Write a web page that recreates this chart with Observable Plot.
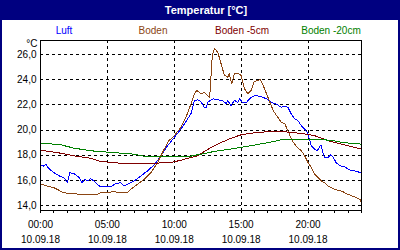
<!DOCTYPE html>
<html><head><meta charset="utf-8">
<script src="https://cdn.jsdelivr.net/npm/d3@7"></script>
<script src="https://cdn.jsdelivr.net/npm/@observablehq/plot@0.6"></script>
<style>
body{margin:0;background:#fff;font-family:"Liberation Sans",Arial,sans-serif;}
#frame{position:absolute;left:0;top:0;width:400px;height:250px;box-sizing:border-box;border:2px solid #000080;border-top:none;background:#fff;}
#title{position:absolute;left:0;top:0;width:400px;height:20px;background:#000080;}
#title span{position:absolute;left:206px;top:10px;transform:translate(-50%,-50%);color:#fff;font-weight:bold;font-size:11px;white-space:nowrap;}
.leg{position:absolute;top:30px;transform:translate(-50%,-50%);font-size:10px;white-space:nowrap;}
#chart{position:absolute;left:0;top:20px;}
</style></head><body>
<div id="frame"></div>
<div id="title"><span>Temperatur [°C]</span></div>
<div id="legend"></div>
<div id="chart"></div>
<script>
const seriesNames = ["Luft", "Boden", "Boden -5cm", "Boden -20cm"];
const seriesColors = ["#0000ff", "#8b4513", "#800000", "#008000"];
const yTicks = [14, 16, 18, 20, 22, 24, 26];
const xMajor = [0, 5, 10, 15, 20];
const xMinor = d3.range(0, 25);
const dateLabel = "10.09.18";

const luftH = [0,0.2,0.4,0.6,1.0,1.4,1.75,2.0,2.2,2.5,2.9,3.1,3.3,3.5,3.75,4.0,4.25,4.5,4.9,5.25,5.6,6.0,6.25,6.5,7.0,7.5,8.0,8.5,9.0,9.5,10.0,10.5,11.0,11.25,11.5,11.75,12.0,12.25,12.4,12.5,12.9,13.25,13.6,13.9,14.0,14.25,14.5,14.75,14.9,15.1,15.4,15.75,16.1,16.5,16.9,17.25,17.6,18.0,18.25,18.5,18.75,19.0,19.25,19.5,19.75,19.95,20.1,20.25,20.5,20.7,20.9,21.0,21.1,21.25,21.5,21.7,21.9,22.1,22.4,22.75,23.0,23.25,23.5,23.75,24.0];
const luftV = [17.23,17.12,17.28,16.96,16.61,16.35,16.21,15.81,16.61,16.53,16.21,15.81,16.08,15.95,16.13,15.95,15.68,15.49,15.52,15.49,15.73,15.81,15.55,15.68,15.95,16.35,16.75,17.23,17.95,18.75,19.41,20.08,20.88,21.3,22.3,22.4,22.25,21.81,21.81,22.21,22.48,22.4,22.35,22.08,22.35,21.95,22.35,22.21,22.48,22.2,22.2,22.61,22.75,22.65,22.48,22.21,22.08,21.81,21.87,21.81,21.28,20.88,20.75,20.35,20.08,19.81,19.28,18.75,18.48,18.35,18.75,18.75,18.21,17.81,17.81,18.03,17.81,17.41,17.15,17.07,16.88,16.75,16.75,16.67,16.56];

const bodenH = [0,0.5,1.0,1.75,3.0,4.25,4.5,5.5,6.0,6.5,6.75,7.25,7.75,8.25,8.75,9.25,9.6,10.0,10.5,10.9,11.25,11.5,11.7,12.0,12.25,12.5,12.65,12.85,13.0,13.25,13.5,13.75,14.0,14.1,14.3,14.5,14.75,15.0,15.25,15.5,15.75,15.95,16.25,16.45,16.6,16.9,17.1,17.4,17.75,18.0,18.25,18.5,18.75,19.0,19.25,19.5,19.75,20.0,20.25,20.5,20.75,21.0,21.25,21.5,22.0,22.5,23.0,23.5,23.9,24.0];
const bodenV = [15.73,15.55,15.41,15.01,14.88,14.88,15.01,15.09,15.01,15.01,15.28,15.68,16.08,16.61,17.41,18.48,19.15,19.55,20.21,21.07,22.08,22.88,23.15,22.88,23.0,22.75,22.6,26.0,26.48,26.2,25.28,24.35,24.21,24.48,23.68,24.48,24.53,24.35,23.28,22.88,23.15,23.81,23.95,24.0,23.68,22.88,22.35,21.55,21.0,20.61,20.53,19.95,19.28,18.88,18.56,18.35,17.95,17.41,17.01,16.48,16.21,15.95,15.81,15.55,15.28,15.15,14.88,14.67,14.48,14.21];

const b5H = [0,1.5,2.5,3.75,4.5,6,8,9,9.75,10.5,11,11.75,12.25,12.75,13.5,14.25,15,16,17,18,19.5,20.5,21.5,22.5,23.5,24];
const b5V = [18.4,18.16,17.95,17.76,17.5,17.36,17.36,17.38,17.41,17.6,17.75,17.95,18.3,18.6,19.0,19.35,19.62,19.78,19.87,19.89,19.73,19.55,19.15,18.88,18.61,18.48];

const b20H = [0,1.5,2.5,3.75,5,6,7,7.5,8,9,10,11,11.5,12,13,14,15,16,17,18,19,20,21.5,22.25,22.5,24];
const b20V = [18.96,18.83,18.56,18.35,18.24,18.16,18.08,17.95,17.9,17.87,17.87,17.87,17.98,18.08,18.3,18.45,18.62,18.8,19.0,19.22,19.28,19.28,19.2,19.1,19.01,18.88];

const hours = [luftH, bodenH, b5H, b20H];
const values = [luftV, bodenV, b5V, b20V];
const data = seriesNames.flatMap((name, i) => hours[i].map((h, j) => ({name, h, v: values[i][j]})));

const legendX = [64, 153, 242, 331];
const legend = document.getElementById("legend");
seriesNames.forEach((n, i) => {
  const s = document.createElement("span");
  s.className = "leg"; s.textContent = n;
  s.style.left = legendX[i] + "px"; s.style.color = seriesColors[i];
  legend.appendChild(s);
});

const fmtY = d => d.toFixed(1).replace(".", ",");
const fmtTime = d => String(d).padStart(2, "0") + ":00";
const fmtDate = () => dateLabel;

const plot = Plot.plot({
  width: 400, height: 230,
  marginLeft: 40, marginRight: 39, marginTop: 20, marginBottom: 40,
  style: {fontFamily: '"Liberation Sans", Arial, sans-serif', fontSize: "10px", color: "#000", background: "transparent", overflow: "visible"},
  x: {domain: [0, 24]},
  y: {domain: [13.6, 27.12]},
  color: {domain: seriesNames, range: seriesColors},
  marks: [
    Plot.gridY(yTicks, {stroke: "#000", strokeOpacity: 1, strokeDasharray: "3,3", shapeRendering: "crispEdges"}),
    Plot.gridX(xMajor, {stroke: "#000", strokeOpacity: 1, strokeDasharray: "3,3", shapeRendering: "crispEdges"}),
    Plot.axisY(yTicks, {tickSize: 0, tickPadding: 4, tickFormat: fmtY, label: null, fill: "#000"}),
    Plot.axisX(xMinor, {tickSize: 3, tickFormat: () => "", label: null, shapeRendering: "crispEdges"}),
    Plot.axisX(xMajor, {tickSize: 0, tickPadding: 10, tickFormat: fmtTime, label: null, fill: "#000"}),
    Plot.axisX(xMajor, {tickSize: 0, tickPadding: 25, tickFormat: fmtDate, label: null, fill: "#000"}),
    Plot.text(["°C"], {frameAnchor: "top-left", textAnchor: "end", dx: -3, dy: -1, fill: "#000"}),
    Plot.line(data, {x: "h", y: "v", z: "name", stroke: "name", strokeWidth: 1, shapeRendering: "crispEdges"}),
    Plot.frame({stroke: "#000", shapeRendering: "crispEdges"})
  ]
});
document.getElementById("chart").appendChild(plot);
</script>
</body></html>
